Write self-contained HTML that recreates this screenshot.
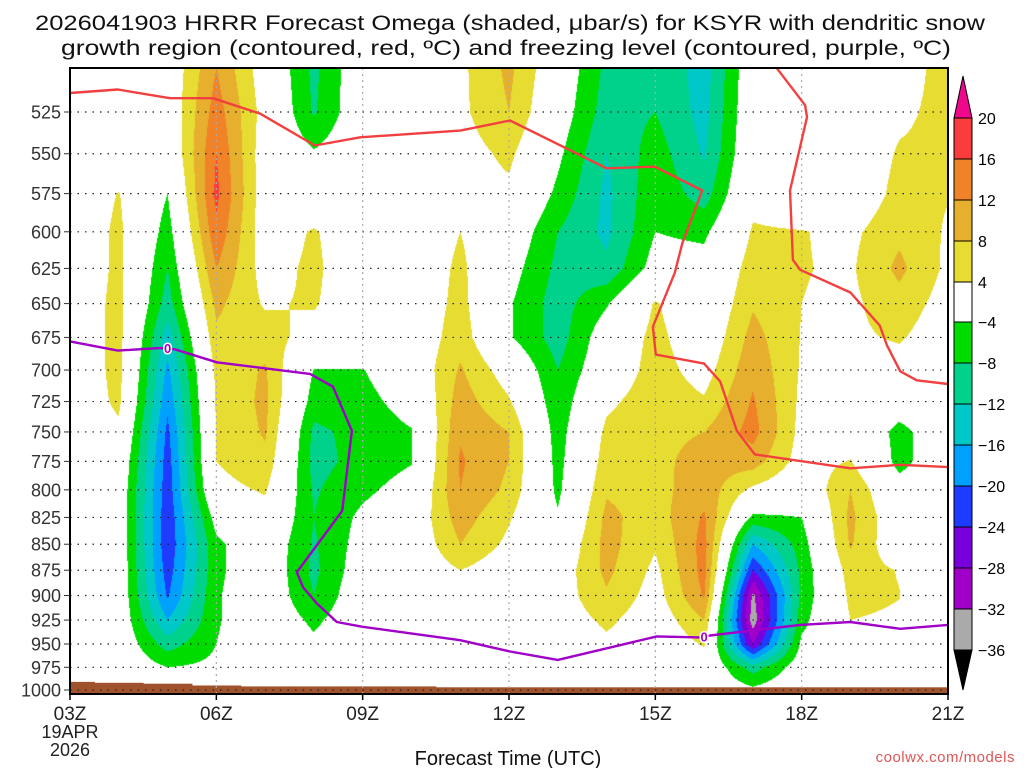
<!DOCTYPE html>
<html><head><meta charset="utf-8"><style>
html,body{margin:0;padding:0;background:#fff;}
#wrap{position:relative;width:1024px;height:768px;overflow:hidden;font-family:"Liberation Sans",sans-serif;}
canvas{position:absolute;left:70px;top:68px;}
svg{position:absolute;left:0;top:0;}
</style></head><body>
<div id="wrap">
<canvas id="cv" width="878" height="626"></canvas>
<svg id="sv" width="1024" height="768"></svg>
</div>
<script>
const hours=[3,4,5,6,7,8,9,10,11,12,13,14,15,16,17,18,19,20,21];
const levels=[500,525,550,575,600,625,650,675,700,725,750,775,800,825,850,875,900,925,950,975,1000];
const omega03=[0,0,0,0,0,0,0,0,0,0,0,0,0,0,0,0,0,0,0,0,0];
const omega04=[0,0,0,4.2,5,5,5.5,5.5,5.5,5,3,1,0,0,0,0,0,0,0,0,0];
const omega05=[0,0,-1,-4,-6,-8,-10,-14,-17,-19,-21,-22,-22.5,-23,-23,-22,-20.5,-16,-10,-4,-1];
const omega06=[12,14,16,17,15,12,9,7,5,4.5,4.2,4,2.5,-2,-5,-5,-4.5,-4.5,-4,-3,-1];
const omega07=[1.2,2,1,1,1,2,3.5,6,8.5,9,8.5,7,4.5,2,0,0,0,0,0,0,0];
const omega08=[-9,-8.5,-3.5,-1,4.5,5,4.5,2,-4.2,-6,-9,-9.5,-8.5,-8,-8.5,-9,-8,-5,-3,0,0];
const omega09=[0,0,0,0,0,0,0,0,-4.2,-5.5,-6.5,-6.5,-5,-3,-2,-1,0,0,0,0,0];
const omega10=[0,0,0,0,0,0,0,0,0,-2,-4.3,-4.3,-2,0,0,0,0,0,0,0,0];
const omega11=[3,3,2,2,4,5,5.5,6.5,8.5,10,11.5,12.5,12,10,8,4,1,0,0,0,0];
const omega12=[9,8,5,3,0,-2,-3.5,-3.5,1.5,4.5,8,8,7,4.5,3,1,0,0,0,0,0];
const omega13=[0,-1,-3,-5,-8,-9,-10,-10,-8,-7,-6,-5.5,-5,-3.5,-1,1,1.5,1,0,0,0];
const omega14=[-9,-10,-12,-13,-13,-11,-4.5,-1,0,3,5,6,7.5,9,9.5,9,7.5,5,3,0,0];
const omega15=[-8.5,-8,-6,-5,-4,-2,4.5,5.5,6,6.5,7,7,6.5,6,4.5,3,2,1,0,0,0];
const omega16=[-14,-13.5,-12.5,-10,-5,-2,-1,0,2,4.5,8,9.5,10.5,12.5,13.5,13.5,12.5,8,4.5,1,0];
const omega17=[0,0.5,1,2.5,4.5,6,7.5,9.5,11,12.5,13.5,10,3,-5,-16,-24,-33,-34.5,-28,-10,-3];
const omega18=[0,0,0,0,4.2,4.2,4,3.8,3.5,3,2.5,2,0,-4,-6,-7,-7,-5.5,-3,-1,0];
const omega19=[0,0,0,0,3,3.4,3.1,3.2,1,0,1.5,4.2,8,9,8.5,6,5,4,1,0,0];
const omega20=[1.5,3,4.5,5.5,7,9,6.5,4.5,2,-1,-5.5,-5.5,-2,0,0,3.8,4.1,3.5,0,0,0];
const omega21=[6,5.5,5,4.2,3.5,3,2,1,0,0,0,0,0,0,0,0,0,0,0,0,0];
const surfacePressure=[991,992,993,995,996,996,996,996,997,997,997,997,997,997,997,997,997,997,997];
const shadeLevels=[-36,-32,-28,-24,-20,-16,-12,-8,-4,4,8,12,16,20];
const shadeColors=["#000000","#aaaaaa","#a000c8","#7800dc","#1e3cff","#00a0ff","#00c8c8","#00d28c","#00dc00","#ffffff","#e6dc32","#e6af2d","#f08228","#fa3c3c","#f0088c"];
const cbLabels=["20","16","12","8","4","\u22124","\u22128","\u221212","\u221216","\u221220","\u221224","\u221228","\u221232","\u221236"];
const dgzLine1Hours=[3,3.98,5.05,5.93,6.9,8.02,8.95,11,12.02,14,14.99,15.96,15.55,15.4,14.95,15.01,16,16.33,16.67,17.04,19,20.02,21];
const dgzLine1Press=[514,512,517,517,526,545,540,536,530,559,558,573,608,628,667,688,695,709,749,769,781,778,780];
const dgzLine2Hours=[17.49,18.07,18.11,17.76,17.82,17.97,19,19.6,19.75,20.02,20.36,21];
const dgzLine2Press=[500,521,528,573,619,626,642,666,681,701,708,711];
const frzHours=[3,3.98,4.85,5.15,6.01,7.92,8.39,8.78,8.58,7.65,7.78,8.06,8.47,9,11,12.02,13,15.03,15.91,16.12,17.97,19,20.02,21];
const frzPress=[678,685,683,684,694,703,713,749,819,877,892,908,927,932,946,958,967,942,943,941,930,927,934,930];
const xTickHours=[3,6,9,12,15,18,21];
const xTickLabels=["03Z","06Z","09Z","12Z","15Z","18Z","21Z"];
const yTickLabels=["525","550","575","600","625","650","675","700","725","750","775","800","825","850","875","900","925","950","975","1000"];
const yTickValues=[525,550,575,600,625,650,675,700,725,750,775,800,825,850,875,900,925,950,975,1000];

const omegaCols=[omega03,omega04,omega05,omega06,omega07,omega08,omega09,omega10,omega11,omega12,omega13,omega14,omega15,omega16,omega17,omega18,omega19,omega20,omega21];
const X0=70,X1=948,PT=68,PB=694;
function xOf(h){return X0+(h-3)*(X1-X0)/18;}
function yOf(p){return 690-897*Math.log(1000/p);}
function hOf(x){return 3+(x-X0)*18/(X1-X0);}
function hex(c){return [parseInt(c.substr(1,2),16),parseInt(c.substr(3,2),16),parseInt(c.substr(5,2),16)];}
const rgb=shadeColors.map(hex);
(function(){
 const cv=document.getElementById('cv');const ctx=cv.getContext('2d');
 const W=cv.width,H=cv.height;const img=ctx.createImageData(W,H);
 const ly=levels.map(yOf);
 for(let py=0;py<H;py++){
  const y=PT+py+0.5;
  let j=0;while(j<ly.length-2&&y>ly[j+1])j++;
  let fy=(y-ly[j])/(ly[j+1]-ly[j]);fy=Math.max(0,Math.min(1,fy));
  for(let px=0;px<W;px++){
   const h=hOf(X0+px+0.5);let i=Math.floor(h-3);if(i>17)i=17;if(i<0)i=0;
   let fx=h-3-i;fx=Math.max(0,Math.min(1,fx));
   const a=omegaCols[i][j],b=omegaCols[i+1][j],c=omegaCols[i][j+1],d=omegaCols[i+1][j+1];
   const v=(a*(1-fx)+b*fx)*(1-fy)+(c*(1-fx)+d*fx)*fy;
   let k=0;while(k<shadeLevels.length&&v>=shadeLevels[k])k++;
   const col=rgb[k];const o=(py*W+px)*4;
   img.data[o]=col[0];img.data[o+1]=col[1];img.data[o+2]=col[2];img.data[o+3]=255;
  }
 }
 ctx.putImageData(img,0,0);
})();
const NS="http://www.w3.org/2000/svg";
const sv=document.getElementById('sv');
function mk(tag,attrs,parent){const e=document.createElementNS(NS,tag);for(const k in attrs)e.setAttribute(k,attrs[k]);(parent||sv).appendChild(e);return e;}
const gnd=mk('g',{});


for(let i=0;i<hours.length;i++){
 const xa=Math.max(X0,xOf(hours[i]-0.5)),xb=Math.min(X1,xOf(hours[i]+0.5));
 const r=mk('rect',{x:xa,y:yOf(surfacePressure[i]),width:xb-xa+0.5,height:PB-yOf(surfacePressure[i]),fill:'#a0522d'},gnd);
 
 
}
const grid=mk('g',{});


yTickValues.forEach(p=>{const l=mk('line',{x1:X0,x2:X1,y1:yOf(p),y2:yOf(p),stroke:'#222','stroke-width':1.2,'stroke-dasharray':'1.5 6'},grid);
 
 });
[6,9,12,15,18].forEach(h=>{const l=mk('line',{x1:xOf(h),x2:xOf(h),y1:PT,y2:PB,stroke:'#aaa','stroke-width':1.2,'stroke-dasharray':'2 4'},grid);
 
 });
function poly(hs,ps,color,name){
 const pts=hs.map((h,i)=>xOf(h).toFixed(1)+','+yOf(ps[i]).toFixed(1)).join(' ');
 const l=mk('polyline',{points:pts,fill:'none',stroke:color,'stroke-width':2.4,'stroke-linejoin':'round'});
 
 
}
poly(dgzLine1Hours,dgzLine1Press,'#f24040','dgz-contour-main');
poly(dgzLine2Hours,dgzLine2Press,'#f24040','dgz-contour-right');
poly(frzHours,frzPress,'#a000c8','freezing-level-contour');
[[5,683],[16,942]].forEach(q=>{
 const t=mk('text',{x:xOf(q[0]),y:yOf(q[1])+5,'text-anchor':'middle','font-size':13,'font-weight':'bold',fill:'#a000c8',stroke:'#fff','stroke-width':3,'paint-order':'stroke'});
 t.textContent='0';
 
 
});
const fr=mk('rect',{x:X0,y:PT,width:X1-X0,height:PB-PT,fill:'none',stroke:'#000','stroke-width':2});


const yax=mk('g',{});


yTickValues.forEach((p,i)=>{
 mk('line',{x1:X0-6,x2:X0,y1:yOf(p),y2:yOf(p),stroke:'#333','stroke-width':1},yax);
 const t=mk('text',{x:X0-9,y:yOf(p)+6.5,'text-anchor':'end','font-size':18,fill:'#333'},yax);
 t.textContent=yTickLabels[i];
 
 
});
const xax=mk('g',{});


xTickHours.forEach((h,i)=>{
 mk('line',{x1:xOf(h),x2:xOf(h),y1:PB,y2:PB+6,stroke:'#000','stroke-width':1.5},xax);
 const t=mk('text',{x:xOf(h),y:720,'text-anchor':'middle','font-size':19,fill:'#222'},xax);
 t.textContent=xTickLabels[i];
 
 
});
[['19APR',738],['2026',756]].forEach(a=>{const t=mk('text',{x:X0,y:a[1],'text-anchor':'middle','font-size':18,fill:'#222'},xax);t.textContent=a[0];
 
 });
const cb=mk('g',{});


const cbY=[118,159,200,241,282,322,363,404,445,486,527,568,609,650];
const cbx0=954,cbx1=972;
const tri1=mk('polygon',{points:`${cbx0},${cbY[0]} ${cbx1},${cbY[0]} ${(cbx0+cbx1)/2},76`,fill:shadeColors[14],stroke:'#000','stroke-width':1},cb);


for(let k=0;k<13;k++){
 const r=mk('rect',{x:cbx0,y:cbY[k],width:cbx1-cbx0,height:cbY[k+1]-cbY[k],fill:shadeColors[13-k],stroke:'#000','stroke-width':1},cb);
 
 
}
const tri2=mk('polygon',{points:`${cbx0},${cbY[13]} ${cbx1},${cbY[13]} ${(cbx0+cbx1)/2},690`,fill:'#000',stroke:'#000','stroke-width':1},cb);


cbLabels.forEach((s,k)=>{const t=mk('text',{x:978,y:cbY[k]+6,'font-size':16,fill:'#000'},cb);t.textContent=s;
 
 });
function txt(s,attrs,name){const t=mk('text',attrs);t.textContent=s;return t;}
txt('2026041903 HRRR Forecast Omega (shaded, \u03BCbar/s) for KSYR with dendritic snow',{x:510,y:30,'text-anchor':'middle','font-size':21,fill:'#111',textLength:950,lengthAdjust:'spacingAndGlyphs'},'chart-title-line1');
txt('growth region (contoured, red, \u00BAC) and freezing level (contoured, purple, \u00BAC)',{x:506,y:55,'text-anchor':'middle','font-size':21,fill:'#111',textLength:890,lengthAdjust:'spacingAndGlyphs'},'chart-title-line2');
txt('Forecast Time (UTC)',{x:508,y:765,'text-anchor':'middle','font-size':20,fill:'#111'},'x-axis-title');
txt('coolwx.com/models',{x:1015,y:762,'text-anchor':'end','font-size':15,fill:'#e05555','letter-spacing':'0.5'},'source-credit');
</script>
</body></html>
